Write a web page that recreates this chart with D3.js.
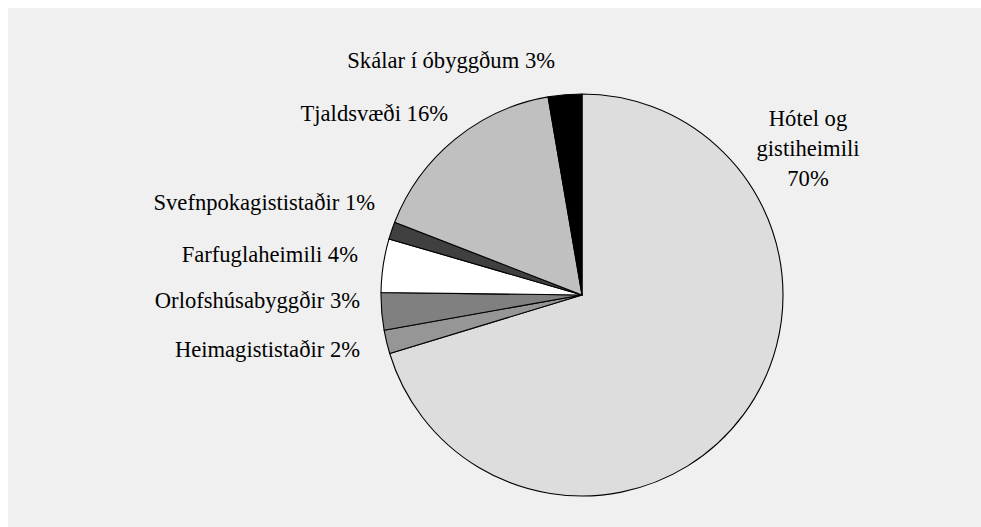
<!DOCTYPE html>
<html>
<head>
<meta charset="utf-8">
<script src="https://cdn.jsdelivr.net/npm/d3@7"></script>
<style>
  html, body { margin: 0; padding: 0; background: #fff; }
  svg text { font-family: "Liberation Serif", "Times New Roman", serif; fill: #000; }
</style>
</head>
<body>
<div id="pie-chart"></div>
<script>
// categories, clockwise from 12 o'clock
var categories = ["Hótel og gistiheimili", "Heimagististaðir", "Orlofshúsabyggðir",
    "Farfuglaheimili", "Svefnpokagististaðir", "Tjaldsvæði", "Skálar í óbyggðum"];
var shares = [70.3, 1.9, 3.0, 4.3, 1.4, 16.4, 2.7];
var pctLabels = ["70%", "2%", "3%", "4%", "1%", "16%", "3%"];
var fills = ["#dddddd", "#969696", "#808080", "#ffffff", "#404040", "#c0c0c0", "#000000"];

var width = 981, height = 527,
    cx = 582, cy = 295, radius = 201;

// where each label sits (anchor point, alignment)
var labelLayout = [
  {x: 808, y: 126, anchor: "middle", lines: ["Hótel og", "gistiheimili"]},
  {x: 360, y: 357, anchor: "end"},
  {x: 360, y: 308, anchor: "end"},
  {x: 358, y: 262, anchor: "end"},
  {x: 375, y: 210, anchor: "end"},
  {x: 448, y: 121, anchor: "end"},
  {x: 555, y: 68, anchor: "end"}
];

var data = categories.map(function(c, i) {
  return {name: c, value: shares[i], pct: pctLabels[i], fill: fills[i]};
});

var svg = d3.select("#pie-chart").append("svg")
    .attr("width", width)
    .attr("height", height);

svg.append("rect")
    .attr("x", 8).attr("y", 8)
    .attr("width", width - 8).attr("height", height - 8)
    .attr("fill", "#f0f0f0");

var pie = d3.pie()
    .sort(null)
    .value(function(d) { return d.value; });

var arc = d3.arc()
    .innerRadius(0)
    .outerRadius(radius);

var g = svg.append("g")
    .attr("transform", "translate(" + cx + "," + cy + ")");

g.selectAll("path")
    .data(pie(data))
    .enter().append("path")
    .attr("d", arc)
    .attr("fill", function(d) { return d.data.fill; })
    .attr("stroke", "#000")
    .attr("stroke-width", 1.1)
    .attr("stroke-linejoin", "round");

var labels = svg.selectAll("text.lbl")
    .data(data)
    .enter().append("text")
    .attr("class", "lbl")
    .attr("font-size", 22.6)
    .attr("text-anchor", function(d, i) { return labelLayout[i].anchor; })
    .attr("x", function(d, i) { return labelLayout[i].x; })
    .attr("y", function(d, i) { return labelLayout[i].y; });

labels.each(function(d, i) {
  var t = d3.select(this), lay = labelLayout[i];
  if (lay.lines) {
    lay.lines.concat([d.pct]).forEach(function(s, k) {
      t.append("tspan").attr("x", lay.x).attr("dy", k === 0 ? 0 : 30).text(s);
    });
  } else {
    t.text(d.name + " " + d.pct);
  }
});
</script>
</body>
</html>
